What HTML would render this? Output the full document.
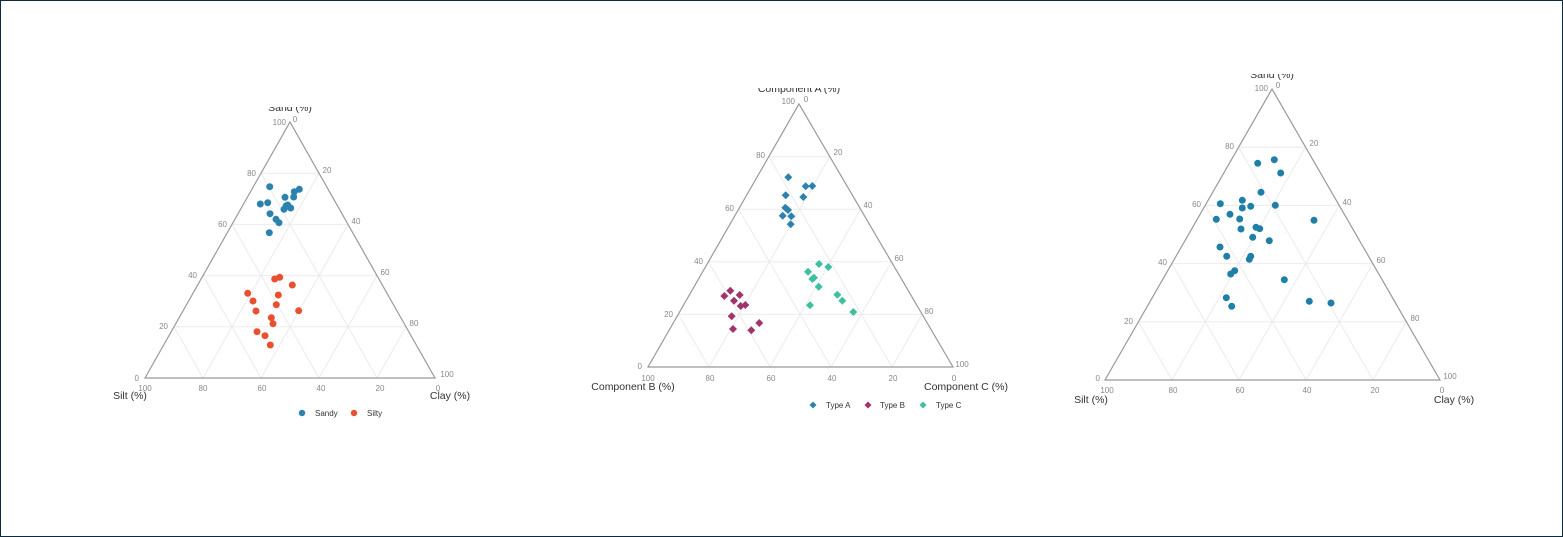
<!DOCTYPE html>
<html><head><meta charset="utf-8"><style>
html,body{margin:0;padding:0;background:#fff}
.wrap{width:1561px;height:535px;border:1px solid #0d2b3e;position:relative;overflow:hidden}
svg text{font-family:"Liberation Sans",sans-serif}
.t{font-size:8px;fill:#888}
.ti{font-size:10.5px;fill:#333}
.lg{font-size:8px;fill:#333}
</style></head><body><div class="wrap">
<svg width="1561" height="535" viewBox="1 1 1561 535" xmlns="http://www.w3.org/2000/svg">
<defs>
<path id="grid" d="M0 .2L.8 .2M0 .4L.6 .4M0 .6L.4 .6M0 .8L.2 .8M.2 0L.2 .8M.4 0L.4 .6M.6 0L.6 .4M.8 0L.8 .2M.8 0L0 .8M.6 0L0 .6M.4 0L0 .4M.2 0L0 .2" fill="none" stroke="#ebebeb" stroke-width="1" vector-effect="non-scaling-stroke"/>
<path id="tri" d="M0 0L1 0L0 1Z" fill="none" stroke="#999" stroke-width="1.2" vector-effect="non-scaling-stroke"/>
<clipPath id="c1"><rect x="0" y="107" width="520" height="430"/></clipPath>
<clipPath id="c2"><rect x="520" y="88" width="520" height="430"/></clipPath>
<clipPath id="c3"><rect x="1040" y="74" width="520" height="430"/></clipPath>
</defs>

<!-- Chart 1 -->
<g clip-path="url(#c1)">
<g transform="matrix(290,0,145,-256,145,378)"><use href="#grid"/><use href="#tri"/></g>
<text class="ti" x="290" y="111" text-anchor="middle">Sand (%)</text>
<g class="t" text-anchor="end">
<text x="286" y="125">100</text><text x="256" y="176">80</text><text x="227" y="227">60</text><text x="197" y="278">40</text><text x="168" y="329">20</text><text x="139" y="381">0</text>
</g>
<g class="t" text-anchor="middle">
<text x="295" y="122">0</text><text x="327" y="173">20</text><text x="356" y="224">40</text><text x="385" y="275">60</text><text x="414" y="326">80</text><text x="447" y="377">100</text>
<text x="145" y="391">100</text><text x="203" y="391">80</text><text x="262" y="391">60</text><text x="321" y="391">40</text><text x="380" y="391">20</text><text x="438" y="391">0</text>
</g>
<text class="ti" x="130" y="399" text-anchor="middle">Silt (%)</text>
<text class="ti" x="450" y="399" text-anchor="middle">Clay (%)</text>
<g fill="#2b83ad">
<circle cx="269.7" cy="186.7" r="3.5"/><circle cx="285" cy="197.3" r="3.5"/><circle cx="294.3" cy="191.7" r="3.5"/><circle cx="299.3" cy="189.3" r="3.5"/><circle cx="293.7" cy="197" r="3.5"/><circle cx="260.3" cy="204" r="3.5"/><circle cx="267.7" cy="202.7" r="3.5"/><circle cx="284" cy="209.3" r="3.5"/><circle cx="287.7" cy="205" r="3.5"/><circle cx="290.7" cy="208" r="3.5"/><circle cx="270" cy="213.7" r="3.5"/><circle cx="276" cy="219.3" r="3.5"/><circle cx="279" cy="222.7" r="3.5"/><circle cx="269.3" cy="232.7" r="3.5"/><circle cx="286" cy="206" r="3.5"/>
</g>
<g fill="#e8502f">
<circle cx="274.7" cy="279" r="3.5"/><circle cx="279.7" cy="277.3" r="3.5"/><circle cx="292.3" cy="285" r="3.5"/><circle cx="247.7" cy="293.3" r="3.5"/><circle cx="278.3" cy="295" r="3.5"/><circle cx="253" cy="301" r="3.5"/><circle cx="276.3" cy="304.7" r="3.5"/><circle cx="256" cy="311" r="3.5"/><circle cx="298.7" cy="310.7" r="3.5"/><circle cx="271.3" cy="317.7" r="3.5"/><circle cx="273" cy="323.7" r="3.5"/><circle cx="257" cy="331.7" r="3.5"/><circle cx="265" cy="335.7" r="3.5"/><circle cx="270.3" cy="345" r="3.5"/>
</g>
<circle cx="302" cy="413" r="3.2" fill="#2b83ad"/><text class="lg" x="315" y="416">Sandy</text>
<circle cx="354" cy="413" r="3.2" fill="#e8502f"/><text class="lg" x="367" y="416">Silty</text>
</g>

<!-- Chart 2 -->
<g clip-path="url(#c2)">
<g transform="matrix(305,0,151,-263,648,367)"><use href="#grid"/><use href="#tri"/></g>
<text class="ti" x="799" y="92" text-anchor="middle">Component A (%)</text>
<g class="t" text-anchor="end">
<text x="795" y="104">100</text><text x="765" y="158">80</text><text x="734" y="211">60</text><text x="703" y="264">40</text><text x="673" y="317">20</text><text x="642" y="369">0</text>
</g>
<g class="t" text-anchor="middle">
<text x="806" y="102">0</text><text x="838" y="155">20</text><text x="868" y="208">40</text><text x="899" y="261">60</text><text x="929" y="314">80</text><text x="962" y="367">100</text>
<text x="648" y="381">100</text><text x="710" y="381">80</text><text x="771" y="381">60</text><text x="832" y="381">40</text><text x="893" y="381">20</text><text x="954" y="381">0</text>
</g>
<text class="ti" x="633" y="390" text-anchor="middle">Component B (%)</text>
<text class="ti" x="966" y="390" text-anchor="middle">Component C (%)</text>
<g fill="#2b83ad">
<path d="M788.3 173.3l4 4l-4 4l-4-4z"/><path d="M805.7 182.3l4 4l-4 4l-4-4z"/><path d="M812.3 182l4 4l-4 4l-4-4z"/><path d="M785.7 191.3l4 4l-4 4l-4-4z"/><path d="M803.3 193l4 4l-4 4l-4-4z"/><path d="M785.3 203.7l4 4l-4 4l-4-4z"/><path d="M788 206l4 4l-4 4l-4-4z"/><path d="M782.7 211.7l4 4l-4 4l-4-4z"/><path d="M791.3 212.3l4 4l-4 4l-4-4z"/><path d="M790.7 220.3l4 4l-4 4l-4-4z"/>
</g>
<g fill="#a1336e">
<path d="M730.3 286.7l4 4l-4 4l-4-4z"/><path d="M724.3 292l4 4l-4 4l-4-4z"/><path d="M739.7 291l4 4l-4 4l-4-4z"/><path d="M734 296.7l4 4l-4 4l-4-4z"/><path d="M740.7 302l4 4l-4 4l-4-4z"/><path d="M745.3 301l4 4l-4 4l-4-4z"/><path d="M731.7 312.3l4 4l-4 4l-4-4z"/><path d="M759.3 319l4 4l-4 4l-4-4z"/><path d="M733 325l4 4l-4 4l-4-4z"/><path d="M751.3 326.3l4 4l-4 4l-4-4z"/>
</g>
<g fill="#3dbfa0">
<path d="M819 260l4 4l-4 4l-4-4z"/><path d="M828.3 263l4 4l-4 4l-4-4z"/><path d="M808 267.7l4 4l-4 4l-4-4z"/><path d="M812.3 275l4 4l-4 4l-4-4z"/><path d="M814 273.7l4 4l-4 4l-4-4z"/><path d="M818.7 282.7l4 4l-4 4l-4-4z"/><path d="M837.3 290.7l4 4l-4 4l-4-4z"/><path d="M842.3 296.7l4 4l-4 4l-4-4z"/><path d="M810 301.3l4 4l-4 4l-4-4z"/><path d="M853.3 308l4 4l-4 4l-4-4z"/>
</g>
<path d="M813 401.5l3.5 3.5l-3.5 3.5l-3.5-3.5z" fill="#2b83ad"/><text class="lg" x="826" y="408">Type A</text>
<path d="M868 401.5l3.5 3.5l-3.5 3.5l-3.5-3.5z" fill="#a1336e"/><text class="lg" x="880" y="408">Type B</text>
<path d="M923 401.5l3.5 3.5l-3.5 3.5l-3.5-3.5z" fill="#3dbfa0"/><text class="lg" x="936" y="408">Type C</text>
</g>

<!-- Chart 3 -->
<g clip-path="url(#c3)">
<g transform="matrix(335,0,167,-291,1105,380)"><use href="#grid"/><use href="#tri"/></g>
<text class="ti" x="1272" y="78" text-anchor="middle">Sand (%)</text>
<g class="t" text-anchor="end">
<text x="1268" y="91">100</text><text x="1234" y="149">80</text><text x="1201" y="207">60</text><text x="1167" y="265">40</text><text x="1133" y="324">20</text><text x="1100" y="381">0</text>
</g>
<g class="t" text-anchor="middle">
<text x="1278" y="88">0</text><text x="1314" y="146">20</text><text x="1347" y="205">40</text><text x="1381" y="263">60</text><text x="1415" y="321">80</text><text x="1450" y="379">100</text>
<text x="1107" y="393">100</text><text x="1173" y="393">80</text><text x="1240" y="393">60</text><text x="1307" y="393">40</text><text x="1375" y="393">20</text><text x="1442" y="393">0</text>
</g>
<text class="ti" x="1091" y="403" text-anchor="middle">Silt (%)</text>
<text class="ti" x="1454" y="403" text-anchor="middle">Clay (%)</text>
<g fill="#1f7fa6">
<circle cx="1257.7" cy="163.3" r="3.5"/><circle cx="1274.3" cy="159.7" r="3.5"/><circle cx="1280.7" cy="173" r="3.5"/><circle cx="1261" cy="192.3" r="3.5"/><circle cx="1242.3" cy="200.3" r="3.5"/><circle cx="1220.3" cy="203.7" r="3.5"/><circle cx="1242.3" cy="208" r="3.5"/><circle cx="1250.7" cy="206.3" r="3.5"/><circle cx="1275.3" cy="205.3" r="3.5"/><circle cx="1230" cy="214.3" r="3.5"/><circle cx="1216.3" cy="219.3" r="3.5"/><circle cx="1239.7" cy="219" r="3.5"/><circle cx="1314" cy="220.3" r="3.5"/><circle cx="1241" cy="229" r="3.5"/><circle cx="1256" cy="227.3" r="3.5"/><circle cx="1259.7" cy="228.7" r="3.5"/><circle cx="1252.7" cy="237.3" r="3.5"/><circle cx="1269.3" cy="240.7" r="3.5"/><circle cx="1220" cy="247" r="3.5"/><circle cx="1226.7" cy="256.3" r="3.5"/><circle cx="1250.7" cy="256.3" r="3.5"/><circle cx="1249.3" cy="259.3" r="3.5"/><circle cx="1234.7" cy="270.7" r="3.5"/><circle cx="1230.7" cy="274" r="3.5"/><circle cx="1284.3" cy="279.7" r="3.5"/><circle cx="1226.3" cy="297.7" r="3.5"/><circle cx="1231.7" cy="306.3" r="3.5"/><circle cx="1309.3" cy="301.3" r="3.5"/><circle cx="1331" cy="303" r="3.5"/>
</g>
</g>
</svg>
</div></body></html>
